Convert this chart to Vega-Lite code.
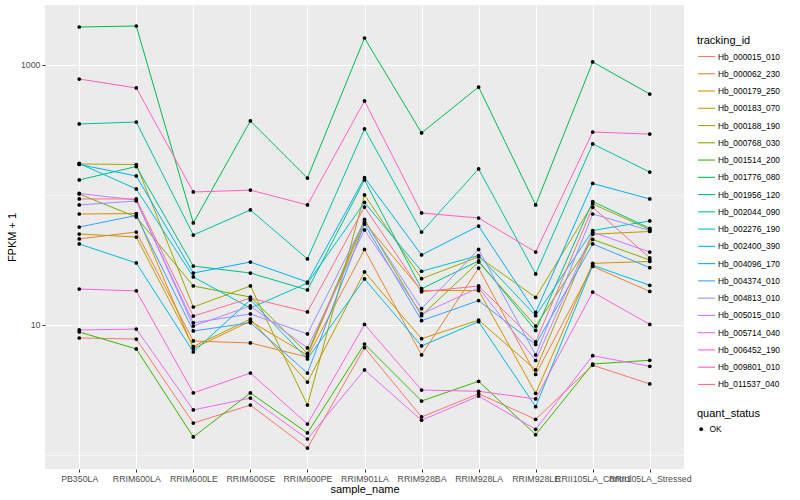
{
"$schema": "https://vega.github.io/schema/vega-lite/v6.json",
"width": 639, "height": 464,
"autosize": {"type": "none"},
"padding": {"left": 45, "top": 5, "right": 116, "bottom": 31},
"background": "white",
"config": {
  "view": {"fill": "#EBEBEB", "stroke": null},
  "font": "Liberation Sans",
  "axis": {"domain": false, "grid": true, "gridColor": "white", "gridWidth": 1.1, "labelFontSize": 8.8, "labelColor": "#4D4D4D", "tickColor": "#333333", "tickSize": 3, "labelPadding": 2, "titleFontSize": 11, "titleFontWeight": "normal", "titleColor": "black"},
  "legend": {"titleFontSize": 11, "titleFontWeight": "normal", "titleColor": "black", "labelFontSize": 8.4, "labelColor": "black"}
},
"data": {"values": [
{"id":"Hb_000015_010","sample":"PB350LA","fpkm":7.94,"status":"OK"},{"id":"Hb_000015_010","sample":"RRIM600LA","fpkm":7.80,"status":"OK"},{"id":"Hb_000015_010","sample":"RRIM600LE","fpkm":1.76,"status":"OK"},{"id":"Hb_000015_010","sample":"RRIM600SE","fpkm":2.42,"status":"OK"},{"id":"Hb_000015_010","sample":"RRIM600PE","fpkm":1.13,"status":"OK"},{"id":"Hb_000015_010","sample":"RRIM901LA","fpkm":6.69,"status":"OK"},{"id":"Hb_000015_010","sample":"RRIM928BA","fpkm":1.96,"status":"OK"},{"id":"Hb_000015_010","sample":"RRIM928LA","fpkm":2.96,"status":"OK"},{"id":"Hb_000015_010","sample":"RRIM928LE","fpkm":1.88,"status":"OK"},{"id":"Hb_000015_010","sample":"RRII105LA_Control","fpkm":4.90,"status":"OK"},{"id":"Hb_000015_010","sample":"RRII105LA_Stressed","fpkm":3.52,"status":"OK"},
{"id":"Hb_000062_230","sample":"PB350LA","fpkm":45.9,"status":"OK"},{"id":"Hb_000062_230","sample":"RRIM600LA","fpkm":51.9,"status":"OK"},{"id":"Hb_000062_230","sample":"RRIM600LE","fpkm":7.53,"status":"OK"},{"id":"Hb_000062_230","sample":"RRIM600SE","fpkm":7.27,"status":"OK"},{"id":"Hb_000062_230","sample":"RRIM600PE","fpkm":5.67,"status":"OK"},{"id":"Hb_000062_230","sample":"RRIM901LA","fpkm":38.1,"status":"OK"},{"id":"Hb_000062_230","sample":"RRIM928BA","fpkm":5.88,"status":"OK"},{"id":"Hb_000062_230","sample":"RRIM928LA","fpkm":27.4,"status":"OK"},{"id":"Hb_000062_230","sample":"RRIM928LE","fpkm":4.16,"status":"OK"},{"id":"Hb_000062_230","sample":"RRII105LA_Control","fpkm":28.2,"status":"OK"},{"id":"Hb_000062_230","sample":"RRII105LA_Stressed","fpkm":18.1,"status":"OK"},
{"id":"Hb_000179_250","sample":"PB350LA","fpkm":71.4,"status":"OK"},{"id":"Hb_000179_250","sample":"RRIM600LA","fpkm":72.0,"status":"OK"},{"id":"Hb_000179_250","sample":"RRIM600LE","fpkm":6.60,"status":"OK"},{"id":"Hb_000179_250","sample":"RRIM600SE","fpkm":10.7,"status":"OK"},{"id":"Hb_000179_250","sample":"RRIM600PE","fpkm":5.88,"status":"OK"},{"id":"Hb_000179_250","sample":"RRIM901LA","fpkm":61.4,"status":"OK"},{"id":"Hb_000179_250","sample":"RRIM928BA","fpkm":18.4,"status":"OK"},{"id":"Hb_000179_250","sample":"RRIM928LA","fpkm":18.4,"status":"OK"},{"id":"Hb_000179_250","sample":"RRIM928LE","fpkm":2.98,"status":"OK"},{"id":"Hb_000179_250","sample":"RRII105LA_Control","fpkm":29.8,"status":"OK"},{"id":"Hb_000179_250","sample":"RRII105LA_Stressed","fpkm":30.8,"status":"OK"},
{"id":"Hb_000183_070","sample":"PB350LA","fpkm":50.1,"status":"OK"},{"id":"Hb_000183_070","sample":"RRIM600LA","fpkm":47.5,"status":"OK"},{"id":"Hb_000183_070","sample":"RRIM600LE","fpkm":6.83,"status":"OK"},{"id":"Hb_000183_070","sample":"RRIM600SE","fpkm":11.1,"status":"OK"},{"id":"Hb_000183_070","sample":"RRIM600PE","fpkm":3.64,"status":"OK"},{"id":"Hb_000183_070","sample":"RRIM901LA","fpkm":25.6,"status":"OK"},{"id":"Hb_000183_070","sample":"RRIM928BA","fpkm":7.84,"status":"OK"},{"id":"Hb_000183_070","sample":"RRIM928LA","fpkm":10.9,"status":"OK"},{"id":"Hb_000183_070","sample":"RRIM928LE","fpkm":4.51,"status":"OK"},{"id":"Hb_000183_070","sample":"RRII105LA_Control","fpkm":49.9,"status":"OK"},{"id":"Hb_000183_070","sample":"RRII105LA_Stressed","fpkm":52.4,"status":"OK"},
{"id":"Hb_000188_190","sample":"PB350LA","fpkm":173.2,"status":"OK"},{"id":"Hb_000188_190","sample":"RRIM600LA","fpkm":171.6,"status":"OK"},{"id":"Hb_000188_190","sample":"RRIM600LE","fpkm":13.75,"status":"OK"},{"id":"Hb_000188_190","sample":"RRIM600SE","fpkm":19.95,"status":"OK"},{"id":"Hb_000188_190","sample":"RRIM600PE","fpkm":2.42,"status":"OK"},{"id":"Hb_000188_190","sample":"RRIM901LA","fpkm":100,"status":"OK"},{"id":"Hb_000188_190","sample":"RRIM928BA","fpkm":22.7,"status":"OK"},{"id":"Hb_000188_190","sample":"RRIM928LA","fpkm":33.4,"status":"OK"},{"id":"Hb_000188_190","sample":"RRIM928LE","fpkm":16.3,"status":"OK"},{"id":"Hb_000188_190","sample":"RRII105LA_Control","fpkm":85.3,"status":"OK"},{"id":"Hb_000188_190","sample":"RRII105LA_Stressed","fpkm":54.3,"status":"OK"},
{"id":"Hb_000768_030","sample":"PB350LA","fpkm":101.8,"status":"OK"},{"id":"Hb_000768_030","sample":"RRIM600LA","fpkm":67.7,"status":"OK"},{"id":"Hb_000768_030","sample":"RRIM600LE","fpkm":19.95,"status":"OK"},{"id":"Hb_000768_030","sample":"RRIM600SE","fpkm":16.4,"status":"OK"},{"id":"Hb_000768_030","sample":"RRIM600PE","fpkm":6.04,"status":"OK"},{"id":"Hb_000768_030","sample":"RRIM901LA","fpkm":64.8,"status":"OK"},{"id":"Hb_000768_030","sample":"RRIM928BA","fpkm":11.8,"status":"OK"},{"id":"Hb_000768_030","sample":"RRIM928LA","fpkm":30.5,"status":"OK"},{"id":"Hb_000768_030","sample":"RRIM928LE","fpkm":9.82,"status":"OK"},{"id":"Hb_000768_030","sample":"RRII105LA_Control","fpkm":45.5,"status":"OK"},{"id":"Hb_000768_030","sample":"RRII105LA_Stressed","fpkm":31.6,"status":"OK"},
{"id":"Hb_001514_200","sample":"PB350LA","fpkm":8.84,"status":"OK"},{"id":"Hb_001514_200","sample":"RRIM600LA","fpkm":6.54,"status":"OK"},{"id":"Hb_001514_200","sample":"RRIM600LE","fpkm":1.375,"status":"OK"},{"id":"Hb_001514_200","sample":"RRIM600SE","fpkm":3.00,"status":"OK"},{"id":"Hb_001514_200","sample":"RRIM600PE","fpkm":1.476,"status":"OK"},{"id":"Hb_001514_200","sample":"RRIM901LA","fpkm":7.14,"status":"OK"},{"id":"Hb_001514_200","sample":"RRIM928BA","fpkm":2.60,"status":"OK"},{"id":"Hb_001514_200","sample":"RRIM928LA","fpkm":3.69,"status":"OK"},{"id":"Hb_001514_200","sample":"RRIM928LE","fpkm":1.433,"status":"OK"},{"id":"Hb_001514_200","sample":"RRII105LA_Control","fpkm":5.01,"status":"OK"},{"id":"Hb_001514_200","sample":"RRII105LA_Stressed","fpkm":5.35,"status":"OK"},
{"id":"Hb_001776_080","sample":"PB350LA","fpkm":1960,"status":"OK"},{"id":"Hb_001776_080","sample":"RRIM600LA","fpkm":1995,"status":"OK"},{"id":"Hb_001776_080","sample":"RRIM600LE","fpkm":60.9,"status":"OK"},{"id":"Hb_001776_080","sample":"RRIM600SE","fpkm":371,"status":"OK"},{"id":"Hb_001776_080","sample":"RRIM600PE","fpkm":135,"status":"OK"},{"id":"Hb_001776_080","sample":"RRIM901LA","fpkm":1613,"status":"OK"},{"id":"Hb_001776_080","sample":"RRIM928BA","fpkm":300,"status":"OK"},{"id":"Hb_001776_080","sample":"RRIM928LA","fpkm":677,"status":"OK"},{"id":"Hb_001776_080","sample":"RRIM928LE","fpkm":83.8,"status":"OK"},{"id":"Hb_001776_080","sample":"RRII105LA_Control","fpkm":1055,"status":"OK"},{"id":"Hb_001776_080","sample":"RRII105LA_Stressed","fpkm":598,"status":"OK"},
{"id":"Hb_001956_120","sample":"PB350LA","fpkm":130.5,"status":"OK"},{"id":"Hb_001956_120","sample":"RRIM600LA","fpkm":165.6,"status":"OK"},{"id":"Hb_001956_120","sample":"RRIM600LE","fpkm":28.4,"status":"OK"},{"id":"Hb_001956_120","sample":"RRIM600SE","fpkm":25.1,"status":"OK"},{"id":"Hb_001956_120","sample":"RRIM600PE","fpkm":18.6,"status":"OK"},{"id":"Hb_001956_120","sample":"RRIM901LA","fpkm":130.5,"status":"OK"},{"id":"Hb_001956_120","sample":"RRIM928BA","fpkm":19.0,"status":"OK"},{"id":"Hb_001956_120","sample":"RRIM928LA","fpkm":31.1,"status":"OK"},{"id":"Hb_001956_120","sample":"RRIM928LE","fpkm":9.07,"status":"OK"},{"id":"Hb_001956_120","sample":"RRII105LA_Control","fpkm":89.1,"status":"OK"},{"id":"Hb_001956_120","sample":"RRII105LA_Stressed","fpkm":55.4,"status":"OK"},
{"id":"Hb_002044_090","sample":"PB350LA","fpkm":352,"status":"OK"},{"id":"Hb_002044_090","sample":"RRIM600LA","fpkm":364,"status":"OK"},{"id":"Hb_002044_090","sample":"RRIM600LE","fpkm":49.2,"status":"OK"},{"id":"Hb_002044_090","sample":"RRIM600SE","fpkm":76.7,"status":"OK"},{"id":"Hb_002044_090","sample":"RRIM600PE","fpkm":32.2,"status":"OK"},{"id":"Hb_002044_090","sample":"RRIM901LA","fpkm":322,"status":"OK"},{"id":"Hb_002044_090","sample":"RRIM928BA","fpkm":51.9,"status":"OK"},{"id":"Hb_002044_090","sample":"RRIM928LA","fpkm":158.5,"status":"OK"},{"id":"Hb_002044_090","sample":"RRIM928LE","fpkm":24.7,"status":"OK"},{"id":"Hb_002044_090","sample":"RRII105LA_Control","fpkm":247,"status":"OK"},{"id":"Hb_002044_090","sample":"RRII105LA_Stressed","fpkm":150,"status":"OK"},
{"id":"Hb_002276_190","sample":"PB350LA","fpkm":174.7,"status":"OK"},{"id":"Hb_002276_190","sample":"RRIM600LA","fpkm":111.2,"status":"OK"},{"id":"Hb_002276_190","sample":"RRIM600LE","fpkm":23.4,"status":"OK"},{"id":"Hb_002276_190","sample":"RRIM600SE","fpkm":13.5,"status":"OK"},{"id":"Hb_002276_190","sample":"RRIM600PE","fpkm":21.0,"status":"OK"},{"id":"Hb_002276_190","sample":"RRIM901LA","fpkm":87.6,"status":"OK"},{"id":"Hb_002276_190","sample":"RRIM928BA","fpkm":25.9,"status":"OK"},{"id":"Hb_002276_190","sample":"RRIM928LA","fpkm":34.2,"status":"OK"},{"id":"Hb_002276_190","sample":"RRIM928LE","fpkm":11.8,"status":"OK"},{"id":"Hb_002276_190","sample":"RRII105LA_Control","fpkm":53.3,"status":"OK"},{"id":"Hb_002276_190","sample":"RRII105LA_Stressed","fpkm":63.1,"status":"OK"},
{"id":"Hb_002400_390","sample":"PB350LA","fpkm":42.0,"status":"OK"},{"id":"Hb_002400_390","sample":"RRIM600LA","fpkm":30.0,"status":"OK"},{"id":"Hb_002400_390","sample":"RRIM600LE","fpkm":6.20,"status":"OK"},{"id":"Hb_002400_390","sample":"RRIM600SE","fpkm":15.6,"status":"OK"},{"id":"Hb_002400_390","sample":"RRIM600PE","fpkm":5.48,"status":"OK"},{"id":"Hb_002400_390","sample":"RRIM901LA","fpkm":22.6,"status":"OK"},{"id":"Hb_002400_390","sample":"RRIM928BA","fpkm":6.90,"status":"OK"},{"id":"Hb_002400_390","sample":"RRIM928LA","fpkm":10.6,"status":"OK"},{"id":"Hb_002400_390","sample":"RRIM928LE","fpkm":2.35,"status":"OK"},{"id":"Hb_002400_390","sample":"RRII105LA_Control","fpkm":28.8,"status":"OK"},{"id":"Hb_002400_390","sample":"RRII105LA_Stressed","fpkm":20.2,"status":"OK"},
{"id":"Hb_004096_170","sample":"PB350LA","fpkm":171.6,"status":"OK"},{"id":"Hb_004096_170","sample":"RRIM600LA","fpkm":140,"status":"OK"},{"id":"Hb_004096_170","sample":"RRIM600LE","fpkm":25.1,"status":"OK"},{"id":"Hb_004096_170","sample":"RRIM600SE","fpkm":30.5,"status":"OK"},{"id":"Hb_004096_170","sample":"RRIM600PE","fpkm":21.4,"status":"OK"},{"id":"Hb_004096_170","sample":"RRIM901LA","fpkm":136,"status":"OK"},{"id":"Hb_004096_170","sample":"RRIM928BA","fpkm":34.6,"status":"OK"},{"id":"Hb_004096_170","sample":"RRIM928LA","fpkm":57.7,"status":"OK"},{"id":"Hb_004096_170","sample":"RRIM928LE","fpkm":12.5,"status":"OK"},{"id":"Hb_004096_170","sample":"RRII105LA_Control","fpkm":122.6,"status":"OK"},{"id":"Hb_004096_170","sample":"RRII105LA_Stressed","fpkm":93.2,"status":"OK"},
{"id":"Hb_004374_010","sample":"PB350LA","fpkm":56.7,"status":"OK"},{"id":"Hb_004374_010","sample":"RRIM600LA","fpkm":69.5,"status":"OK"},{"id":"Hb_004374_010","sample":"RRIM600LE","fpkm":8.99,"status":"OK"},{"id":"Hb_004374_010","sample":"RRIM600SE","fpkm":10.4,"status":"OK"},{"id":"Hb_004374_010","sample":"RRIM600PE","fpkm":4.27,"status":"OK"},{"id":"Hb_004374_010","sample":"RRIM901LA","fpkm":59.8,"status":"OK"},{"id":"Hb_004374_010","sample":"RRIM928BA","fpkm":10.8,"status":"OK"},{"id":"Hb_004374_010","sample":"RRIM928LA","fpkm":15.4,"status":"OK"},{"id":"Hb_004374_010","sample":"RRIM928LE","fpkm":7.08,"status":"OK"},{"id":"Hb_004374_010","sample":"RRII105LA_Control","fpkm":42.0,"status":"OK"},{"id":"Hb_004374_010","sample":"RRII105LA_Stressed","fpkm":27.6,"status":"OK"},
{"id":"Hb_004813_010","sample":"PB350LA","fpkm":83.8,"status":"OK"},{"id":"Hb_004813_010","sample":"RRIM600LA","fpkm":89.9,"status":"OK"},{"id":"Hb_004813_010","sample":"RRIM600LE","fpkm":10.4,"status":"OK"},{"id":"Hb_004813_010","sample":"RRIM600SE","fpkm":12.15,"status":"OK"},{"id":"Hb_004813_010","sample":"RRIM600PE","fpkm":8.53,"status":"OK"},{"id":"Hb_004813_010","sample":"RRIM901LA","fpkm":63.1,"status":"OK"},{"id":"Hb_004813_010","sample":"RRIM928BA","fpkm":13.35,"status":"OK"},{"id":"Hb_004813_010","sample":"RRIM928LA","fpkm":38.1,"status":"OK"},{"id":"Hb_004813_010","sample":"RRIM928LE","fpkm":5.88,"status":"OK"},{"id":"Hb_004813_010","sample":"RRII105LA_Control","fpkm":71.4,"status":"OK"},{"id":"Hb_004813_010","sample":"RRII105LA_Stressed","fpkm":53.3,"status":"OK"},
{"id":"Hb_005015_010","sample":"PB350LA","fpkm":102.7,"status":"OK"},{"id":"Hb_005015_010","sample":"RRIM600LA","fpkm":91.5,"status":"OK"},{"id":"Hb_005015_010","sample":"RRIM600LE","fpkm":9.82,"status":"OK"},{"id":"Hb_005015_010","sample":"RRIM600SE","fpkm":14.0,"status":"OK"},{"id":"Hb_005015_010","sample":"RRIM600PE","fpkm":6.66,"status":"OK"},{"id":"Hb_005015_010","sample":"RRIM901LA","fpkm":53.8,"status":"OK"},{"id":"Hb_005015_010","sample":"RRIM928BA","fpkm":12.15,"status":"OK"},{"id":"Hb_005015_010","sample":"RRIM928LA","fpkm":19.3,"status":"OK"},{"id":"Hb_005015_010","sample":"RRIM928LE","fpkm":5.33,"status":"OK"},{"id":"Hb_005015_010","sample":"RRII105LA_Control","fpkm":51.7,"status":"OK"},{"id":"Hb_005015_010","sample":"RRII105LA_Stressed","fpkm":36.4,"status":"OK"},
{"id":"Hb_005714_040","sample":"PB350LA","fpkm":9.15,"status":"OK"},{"id":"Hb_005714_040","sample":"RRIM600LA","fpkm":9.31,"status":"OK"},{"id":"Hb_005714_040","sample":"RRIM600LE","fpkm":2.22,"status":"OK"},{"id":"Hb_005714_040","sample":"RRIM600SE","fpkm":2.74,"status":"OK"},{"id":"Hb_005714_040","sample":"RRIM600PE","fpkm":1.327,"status":"OK"},{"id":"Hb_005714_040","sample":"RRIM901LA","fpkm":4.51,"status":"OK"},{"id":"Hb_005714_040","sample":"RRIM928BA","fpkm":1.85,"status":"OK"},{"id":"Hb_005714_040","sample":"RRIM928LA","fpkm":2.84,"status":"OK"},{"id":"Hb_005714_040","sample":"RRIM928LE","fpkm":1.576,"status":"OK"},{"id":"Hb_005714_040","sample":"RRII105LA_Control","fpkm":5.80,"status":"OK"},{"id":"Hb_005714_040","sample":"RRII105LA_Stressed","fpkm":4.81,"status":"OK"},
{"id":"Hb_006452_190","sample":"PB350LA","fpkm":18.9,"status":"OK"},{"id":"Hb_006452_190","sample":"RRIM600LA","fpkm":18.3,"status":"OK"},{"id":"Hb_006452_190","sample":"RRIM600LE","fpkm":3.00,"status":"OK"},{"id":"Hb_006452_190","sample":"RRIM600SE","fpkm":4.27,"status":"OK"},{"id":"Hb_006452_190","sample":"RRIM600PE","fpkm":1.73,"status":"OK"},{"id":"Hb_006452_190","sample":"RRIM901LA","fpkm":10.09,"status":"OK"},{"id":"Hb_006452_190","sample":"RRIM928BA","fpkm":3.16,"status":"OK"},{"id":"Hb_006452_190","sample":"RRIM928LA","fpkm":3.09,"status":"OK"},{"id":"Hb_006452_190","sample":"RRIM928LE","fpkm":2.70,"status":"OK"},{"id":"Hb_006452_190","sample":"RRII105LA_Control","fpkm":17.9,"status":"OK"},{"id":"Hb_006452_190","sample":"RRII105LA_Stressed","fpkm":10.1,"status":"OK"},
{"id":"Hb_009801_010","sample":"PB350LA","fpkm":780,"status":"OK"},{"id":"Hb_009801_010","sample":"RRIM600LA","fpkm":666,"status":"OK"},{"id":"Hb_009801_010","sample":"RRIM600LE","fpkm":105.5,"status":"OK"},{"id":"Hb_009801_010","sample":"RRIM600SE","fpkm":109,"status":"OK"},{"id":"Hb_009801_010","sample":"RRIM600PE","fpkm":83.8,"status":"OK"},{"id":"Hb_009801_010","sample":"RRIM901LA","fpkm":529,"status":"OK"},{"id":"Hb_009801_010","sample":"RRIM928BA","fpkm":72.7,"status":"OK"},{"id":"Hb_009801_010","sample":"RRIM928LA","fpkm":66.5,"status":"OK"},{"id":"Hb_009801_010","sample":"RRIM928LE","fpkm":36.4,"status":"OK"},{"id":"Hb_009801_010","sample":"RRII105LA_Control","fpkm":305,"status":"OK"},{"id":"Hb_009801_010","sample":"RRII105LA_Stressed","fpkm":294,"status":"OK"},
{"id":"Hb_011537_040","sample":"PB350LA","fpkm":93.2,"status":"OK"},{"id":"Hb_011537_040","sample":"RRIM600LA","fpkm":93.2,"status":"OK"},{"id":"Hb_011537_040","sample":"RRIM600LE","fpkm":11.7,"status":"OK"},{"id":"Hb_011537_040","sample":"RRIM600SE","fpkm":16.1,"status":"OK"},{"id":"Hb_011537_040","sample":"RRIM600PE","fpkm":12.6,"status":"OK"},{"id":"Hb_011537_040","sample":"RRIM901LA","fpkm":80.8,"status":"OK"},{"id":"Hb_011537_040","sample":"RRIM928BA","fpkm":18.0,"status":"OK"},{"id":"Hb_011537_040","sample":"RRIM928LA","fpkm":19.95,"status":"OK"},{"id":"Hb_011537_040","sample":"RRIM928LE","fpkm":7.40,"status":"OK"},{"id":"Hb_011537_040","sample":"RRII105LA_Control","fpkm":80.4,"status":"OK"},{"id":"Hb_011537_040","sample":"RRII105LA_Stressed","fpkm":32.8,"status":"OK"}
]},
"encoding": {
  "x": {"field": "sample", "type": "nominal", "title": "sample_name",
        "sort": ["PB350LA","RRIM600LA","RRIM600LE","RRIM600SE","RRIM600PE","RRIM901LA","RRIM928BA","RRIM928LA","RRIM928LE","RRII105LA_Control","RRII105LA_Stressed"],
        "scale": {"type": "point", "padding": 0.6},
        "axis": {"labelAngle": 0, "labelOverlap": false, "labelLimit": 0, "titlePadding": 1}},
  "y": {"field": "fpkm", "type": "quantitative", "title": "FPKM + 1",
        "scale": {"type": "log", "domain": [0.78, 2894], "nice": false},
        "axis": {"values": [1, 10, 100, 1000], "labelExpr": "(datum.value == 10 || datum.value == 1000) ? format(datum.value, 'd') : ''",
                 "tickOpacity": {"condition": {"test": "datum.value == 10 || datum.value == 1000", "value": 1}, "value": 0},
                 "gridWidth": {"condition": {"test": "datum.value == 10 || datum.value == 1000", "value": 1.1}, "value": 0.55},
                 "titlePadding": 3}}
},
"layer": [
  {"mark": {"type": "line", "strokeWidth": 1},
   "encoding": {"color": {"field": "id", "type": "nominal", "title": "tracking_id",
      "scale": {"range": ["#F8766D","#EA8331","#D89000","#C09B00","#A3A500","#7CAE00","#39B600","#00BB4E","#00BF7D","#00C1A3","#00BFC4","#00BAE0","#00B0F6","#35A2FF","#9590FF","#C77CFF","#E76BF3","#FA62DB","#FF62BC","#FF6C91"]},
      "legend": {"orient": "none", "legendX": 652, "legendY": 30, "symbolType": "stroke", "symbolSize": 290, "symbolStrokeWidth": 1.1, "rowPadding": 3.26, "titlePadding": 1, "labelOffset": 2}}}},
  {"mark": {"type": "point", "filled": true, "color": "black", "opacity": 1, "size": 14},
   "encoding": {"shape": {"field": "status", "type": "nominal", "title": "quant_status", "scale": {"range": ["circle"]},
      "legend": {"orient": "none", "legendX": 652, "legendY": 403, "symbolFillColor": "black", "symbolStrokeColor": "black", "symbolSize": 14, "titlePadding": 6, "labelOffset": 4}}}}
]
}
